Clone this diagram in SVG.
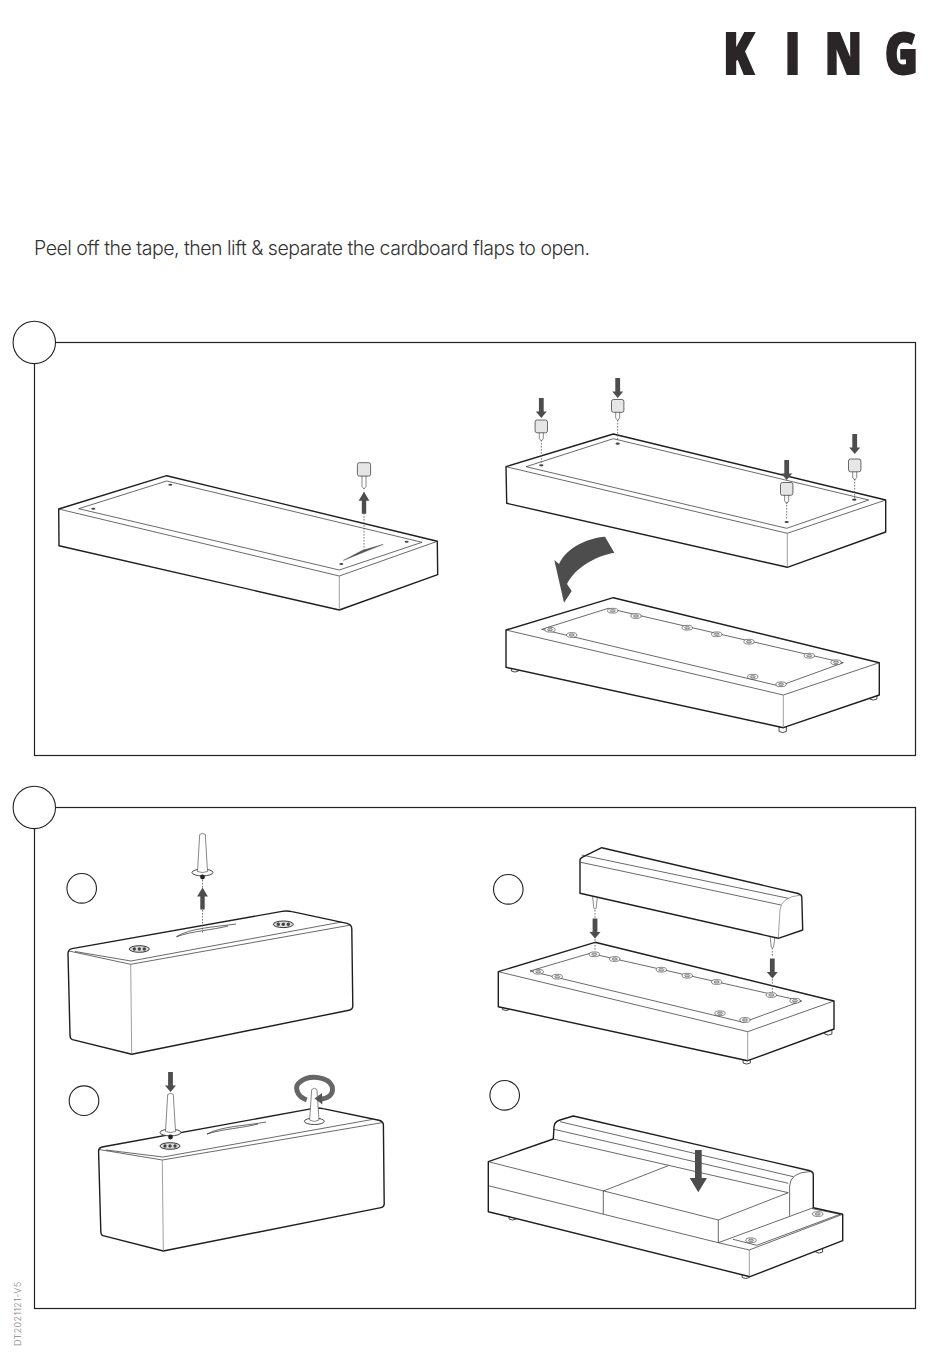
<svg xmlns="http://www.w3.org/2000/svg" width="950" height="1360" viewBox="0 0 950 1360">
<style>
.o{fill:#fff;stroke:#1e1e1e;stroke-width:1.4;stroke-linejoin:round}
.l{fill:none;stroke:#2a2a2a;stroke-width:.7}
.v{fill:none;stroke:#777;stroke-width:.7}
.f{fill:none;stroke:#222;stroke-width:1.2}
.c{fill:#fff;stroke:#222;stroke-width:1.1}
.d{fill:none;stroke:#555;stroke-width:.8;stroke-dasharray:1.6 1.4}
.a{fill:#4d4d4d}
.h{fill:#fff;stroke:#333;stroke-width:.6}
.hh{fill:#444}
.cap{fill:#e6e6e6;stroke:#444;stroke-width:.8}
.pin{fill:#fff;stroke:#555;stroke-width:.7}
.fl{fill:#fff;stroke:#333;stroke-width:.9}
.lk{fill:#fff;stroke:#333;stroke-width:.9}
.t{font-family:Inter,"Liberation Sans",sans-serif;font-weight:300;fill:#333}
</style>
<defs>
<path id="down" class="a" d="M-2.4,0H2.4V13.5H5.5L0,20L-5.5,13.5H-2.4Z"/>
<path id="up" class="a" d="M-2.2,22H2.2V9H5.4L0,0L-5.4,9H-2.2Z"/>
<g id="foot"><path class="pin" d="M-2,11V18.5L0,21L2,18.5V11Z"/><rect class="cap" x="-6.2" y="0" width="12.4" height="12.8" rx="2"/></g>
<g id="bolt"><ellipse class="h" rx="5.2" ry="2.4"/><ellipse cx="0" cy="0" rx="2.6" ry="1.2" fill="#cfcfcf" stroke="#333" stroke-width=".5"/></g>
<g id="plate"><ellipse class="h" rx="10" ry="3.3" style="fill:#ddd;stroke:#222;stroke-width:.9"/><circle class="hh" cx="-5" r="1.7"/><circle class="hh" cx="0" r="1.7"/><circle class="hh" cx="5" r="1.7"/></g>
<path id="leg" class="lk" d="M-3.6,-3V1.5Q0,3.6 3.6,1.5V-3Z"/>
<g id="pinlong"><ellipse class="fl" cy="39" rx="10.5" ry="3.4"/><path class="pin" d="M-2.8,1L-5,38Q0,40 5,38L2.8,1Q0,-1.4 -2.8,1Z"/></g>
</defs>

<g id="logo"><text class="t" style="font-family:'Open Sans','Liberation Sans',sans-serif;font-weight:800;fill:#2a2526;stroke:#2a2526;stroke-width:2" font-size="56" transform="scale(.8,1)" x="904 981 1031 1106" y="74.5">KING</text></g>
<g id="intro"><text class="t" x="34" y="255" font-size="19.5" textLength="556" lengthAdjust="spacing">Peel off the tape, then lift &amp; separate the cardboard flaps to open.</text></g>
<g id="doc-code"><text class="t" font-size="9" style="fill:#888" transform="translate(21,1346) rotate(-90)" textLength="64">DT2021121-V5</text></g>

<g id="panel-1">
<rect class="f" x="34.5" y="342.5" width="881" height="413"/>
<circle class="c" cx="34.3" cy="342.4" r="21.2"/>
</g>
<g id="panel-2">
<rect class="f" x="34.5" y="807.5" width="881" height="501"/>
<circle class="c" cx="34.3" cy="807.4" r="21.2"/>
</g>
<g id="step-a"><circle class="c" cx="81.7" cy="888.3" r="14.8"/></g>
<g id="step-b"><circle class="c" cx="508.3" cy="889.3" r="14.8"/></g>
<g id="step-c"><circle class="c" cx="84" cy="1100.7" r="14.8"/></g>
<g id="step-d"><circle class="c" cx="504.7" cy="1095.3" r="14.8"/></g>

<g id="base-1">
<path class="o" d="M58.7,509L166.7,475.7L437.3,541.3L437.7,574.7L339.3,610L59,545.7Z"/>
<path class="l" d="M58.7,509L339.3,576L437.3,541.3"/>
<path class="v" d="M339.3,576V610"/>
<path class="l" d="M78.7,508.7L166.7,481L422,542.3L339.3,570Z"/>
<ellipse class="hh" cx="93.3" cy="508.7" rx="2" ry="1"/><ellipse class="hh" cx="170.3" cy="484.7" rx="2" ry="1"/><ellipse class="hh" cx="406.7" cy="541.7" rx="2" ry="1"/><ellipse class="hh" cx="341.3" cy="564" rx="2" ry="1"/>
<path d="M343.3,560.4L383.3,544.3L362,550.6Z" fill="#555" stroke="#444" stroke-width=".4"/>
<path class="pin" d="M362,475V486.5L364,489L366,486.5V475Z"/>
<rect class="cap" x="357.4" y="462.7" width="13.2" height="13.4" rx="2"/>
</g>

<g id="base-2">
<path class="o" d="M506,466.7L613.3,434L885.7,500V532L787.3,567.3L506.7,503.3Z"/>
<path class="l" d="M506,466.7L787.3,533.3L885.7,500"/>
<path class="v" d="M787.3,533.3V567.3"/>
<path class="l" d="M526,466.7L613.3,438.7L868.7,500L786.7,528.3Z"/>
<ellipse class="hh" cx="541.3" cy="465.3" rx="2.2" ry="1.1"/><ellipse class="hh" cx="617.7" cy="443.7" rx="2.2" ry="1.1"/><ellipse class="hh" cx="854.3" cy="499.7" rx="2.2" ry="1.1"/><ellipse class="hh" cx="786.7" cy="522" rx="2.2" ry="1.1"/>
<use href="#foot" x="541.3" y="420"/><use href="#foot" x="617.7" y="399.5"/><use href="#foot" x="786.7" y="482.5"/><use href="#foot" x="854.7" y="459"/>
</g>

<g id="base-3">
<use href="#leg" x="515" y="669.5"/><use href="#leg" x="873.3" y="697.5"/><use href="#leg" x="782.7" y="730"/>
<path class="o" d="M506,630L613.3,597.7L879.3,662.7V695L783.3,727.7L506,667.3Z"/>
<path class="l" d="M506,630L783.3,695L879.3,662.7"/>
<path class="v" d="M783.3,695V727.7"/>
<path class="l" d="M541.7,629.3L608.3,608.3L843.3,662.7L779.3,686Z"/>
<use href="#bolt" x="550" y="629.7"/><use href="#bolt" x="571.7" y="635"/><use href="#bolt" x="612.7" y="610.7"/><use href="#bolt" x="636" y="616"/><use href="#bolt" x="687.3" y="627.7"/><use href="#bolt" x="716.7" y="634.3"/><use href="#bolt" x="749" y="641.7"/><use href="#bolt" x="809.3" y="655.7"/><use href="#bolt" x="836" y="662.3"/><use href="#bolt" x="752.7" y="676.7"/><use href="#bolt" x="781" y="684.3"/>
</g>

<g id="box-a">
<path class="o" d="M68,954Q67.8,949.6 72,948.6L282,911.4Q287,910.4 292,911.6L347,923.4Q351.8,924.8 351.8,929L352.8,1006Q352.8,1009.4 349,1010.2L131.7,1054.3L72.5,1039.6Q70,1038.8 70,1035Z"/>
<path class="l" d="M69,951L130.7,964.3L351,925"/>
<path class="l" d="M75,951.5L131,961L341.5,922"/>
<path class="v" d="M130.7,964.3L131.7,1054.3"/>
<path class="l" d="M176.5,936.7C190,928 215,927 236,924M176.5,936.7C192,931 213,930 228,926"/>
<use href="#plate" x="139.3" y="949"/><use href="#plate" x="283.3" y="924.3"/>
<use href="#pinlong" x="202.5" y="833.5"/>
<circle cx="202.5" cy="877" r="2.4" fill="#222"/>
</g>

<g id="box-c">
<path class="o" d="M98.6,1152Q98.4,1148 102,1147L312,1108.6Q318,1107.4 323,1108.6L379,1120.2Q383.4,1121.4 383.4,1125L384.2,1204Q384.2,1207 381,1207.6L163.3,1251L103,1235.6Q100.8,1235 100.8,1231Z"/>
<path class="l" d="M99,1149.5L162.3,1160L383,1122.5"/>
<path class="l" d="M106,1150L163,1157L372,1119.5"/>
<path class="v" d="M162.3,1160L163.3,1251"/>
<path class="l" d="M207,1134C222,1126 245,1126 266,1122M207,1134C222,1129 243,1128 258,1124"/>
<use href="#plate" x="170" y="1146"/>
<ellipse class="fl" cx="314.3" cy="1121.3" rx="10" ry="3.2"/>
<path fill="none" stroke="#666" stroke-width="5" d="M306.7,1100C296,1096 294,1086 300,1082C310,1074 328,1077 332,1086C334,1093 330,1098 321,1099.2"/>
<path class="pin" d="M311.7,1089.5L309.6,1120Q314.3,1123 319,1120L316.9,1089.5Q314.3,1087 311.7,1089.5Z"/>
<path d="M314.5,1098.6L322,1093L322.4,1104.5Z" fill="#555"/>
<use href="#pinlong" x="170.5" y="1093.5"/>
<circle cx="170.5" cy="1137" r="2.4" fill="#222"/>
</g>

<g id="back-b">
<path class="pin" d="M592.5,895.5L593.8,908Q595,910.5 596.2,908L597.5,896Z"/>
<path class="pin" d="M770,936L771.3,947Q772.4,949.5 773.6,947L775,936Z"/>
<path class="o" d="M580,860Q580,858 583,856.8L601.7,847.7L798,893.5Q801.5,894.5 801.8,897L802.7,930L778.3,938.3L580,893.3Z"/>
<path class="l" d="M581.7,855L788.3,898.3"/>
<path class="l" d="M580.7,862.3L781,905"/>
<path class="v" d="M801,895Q781,897 780,910L778.3,938"/>
</g>

<g id="base-b">
<use href="#leg" x="506" y="1008"/><use href="#leg" x="828.3" y="1032.5"/><use href="#leg" x="746.7" y="1061.5"/>
<path class="o" d="M498.3,971.7L595,942.3L834,1001V1029L747.7,1060.7L498.3,1006.7Z"/>
<path class="l" d="M498.3,971.7L747.7,1031.7L834,1001"/>
<path class="v" d="M747.7,1031.7V1060.7"/>
<path class="l" d="M530,971L590,953.3L801.7,1001L743.3,1022.3Z"/>
<use href="#bolt" x="538.3" y="971.7"/><use href="#bolt" x="557.3" y="976.7"/><use href="#bolt" x="594.3" y="954.3"/><use href="#bolt" x="614.7" y="959"/><use href="#bolt" x="661.3" y="969.7"/><use href="#bolt" x="687.3" y="975.7"/><use href="#bolt" x="716.7" y="982"/><use href="#bolt" x="771.3" y="995"/><use href="#bolt" x="795" y="1000.7"/><use href="#bolt" x="720" y="1013.3"/><use href="#bolt" x="745" y="1020"/>
</g>

<g id="sofa-d">
<use href="#leg" x="512.7" y="1217.5"/><use href="#leg" x="819" y="1250.5"/><use href="#leg" x="745.7" y="1276"/>
<path class="o" d="M488.3,1161.7L553.3,1139L554,1127Q554,1122 560,1120L573.3,1116L809,1170.5Q813.3,1171.5 813.3,1175V1207.7L842.7,1214.3V1240.7L750,1276.7L488.3,1211.7Z"/>
<path class="l" d="M560,1121.7L793.3,1176.7"/>
<path class="l" d="M554,1129.3L788.3,1183.3"/>
<path class="l" d="M553.3,1139L788.3,1192.7"/>
<path class="l" d="M811,1171.5Q790,1172 789.6,1186V1192.7V1215.7"/>
<path class="l" d="M488.3,1161.7L718.3,1220L788.3,1192.7"/>
<path class="l" d="M488.3,1185.7L718.3,1242.7"/>
<path class="l" d="M603.3,1191V1214M603.3,1191L668.3,1165.7M718.3,1220V1242.7"/>
<path class="l" d="M718.3,1242.7L749.3,1250L842.7,1214.3M718.3,1242.7L813.3,1207.7"/>
<path class="l" d="M733,1239.3L756.7,1245.3L840,1214.3L812,1208.6"/>
<path class="v" d="M749.3,1250V1276.7"/>
<use href="#bolt" x="751" y="1240.3"/><use href="#bolt" x="817.7" y="1214"/>
</g>

<g id="connectors">
<path class="d" d="M364,492V550"/>
<path class="d" d="M541.3,440V463M617.7,420V441M786.7,502V520M854.7,479V498"/>
<path class="d" d="M202.5,880V933"/>
<path class="d" d="M595,910V918M595,939V950M772.3,948V957M772.3,979V992"/>
<use href="#up" x="364" y="491.7"/>
<use href="#down" x="541.3" y="398"/><use href="#down" x="617.7" y="378"/><use href="#down" x="786.7" y="460"/><use href="#down" x="854.7" y="434"/>
<use href="#up" x="202.5" y="887.5"/>
<use href="#down" x="170.5" y="1072"/>
<use href="#down" x="595" y="918.5"/><use href="#down" x="772.3" y="958.5"/>
<path class="a" d="M605,536.7C588,538 567,547 559,564L554.3,560L564,602.7L571.7,591L567,584C575,568 595,556 614.3,552.7Z"/>
<path class="a" d="M695,1150H701.7V1178H707L698.3,1192.3L689.7,1178H695Z"/>
</g>
</svg>
